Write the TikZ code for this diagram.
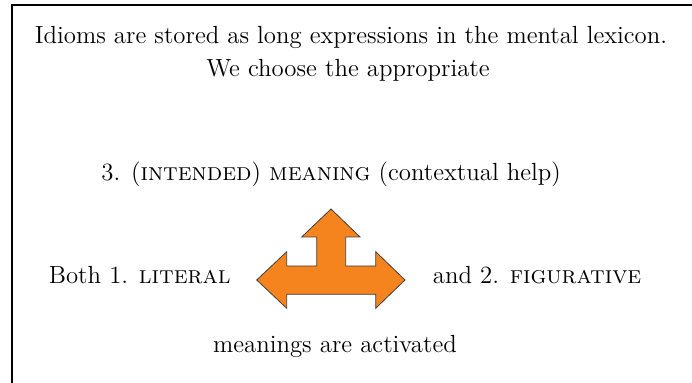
\documentclass[tikz,border=0pt]{standalone}
\definecolor{arroworange}{RGB}{245,132,31}
\begin{document}
\begin{tikzpicture}[x=0.5pt,y=-0.5pt,
  txt/.style={font=\fontsize{12.4}{15}\selectfont, inner sep=0pt},
  bigarrow/.style={fill=arroworange, draw=black!75, line width=0.4pt, line join=miter}]
\useasboundingbox (0,0) rectangle (692,383);
\clip (0,0) rectangle (692,383);
\draw[line width=1.25pt] (12,400) -- (12,5) -- (700,5);
\node[txt, anchor=base] (l1) at (351,43.5) {Idioms are stored as long expressions in the mental lexicon.};
\node[txt, anchor=base] (l2) at (348,76.5) {We choose the appropriate};
\node[txt, anchor=base west] (intended) at (101,180.5) {3. (\textsc{intended}) \textsc{meaning} (contextual help)};
\node[txt, anchor=base west] (literal) at (48.5,283.5) {Both 1. \textsc{literal}};
\node[txt, anchor=base west] (figurative) at (432.5,283.5) {and 2. \textsc{figurative}};
\node[txt, anchor=base] (activated) at (335,353) {meanings are activated};
\draw[bigarrow] (331,209) -- (360,237) -- (345.7,237) -- (345.7,266) -- (375.7,266) -- (375.7,251.7) -- (405,280) -- (375.7,308.3) -- (375.7,294.3) -- (286.7,294.3) -- (286.7,308.3) -- (256.7,280) -- (286.7,251.7) -- (286.7,266) -- (316.7,266) -- (316.7,237) -- (301.7,237) -- cycle;
\end{tikzpicture}
\end{document}
